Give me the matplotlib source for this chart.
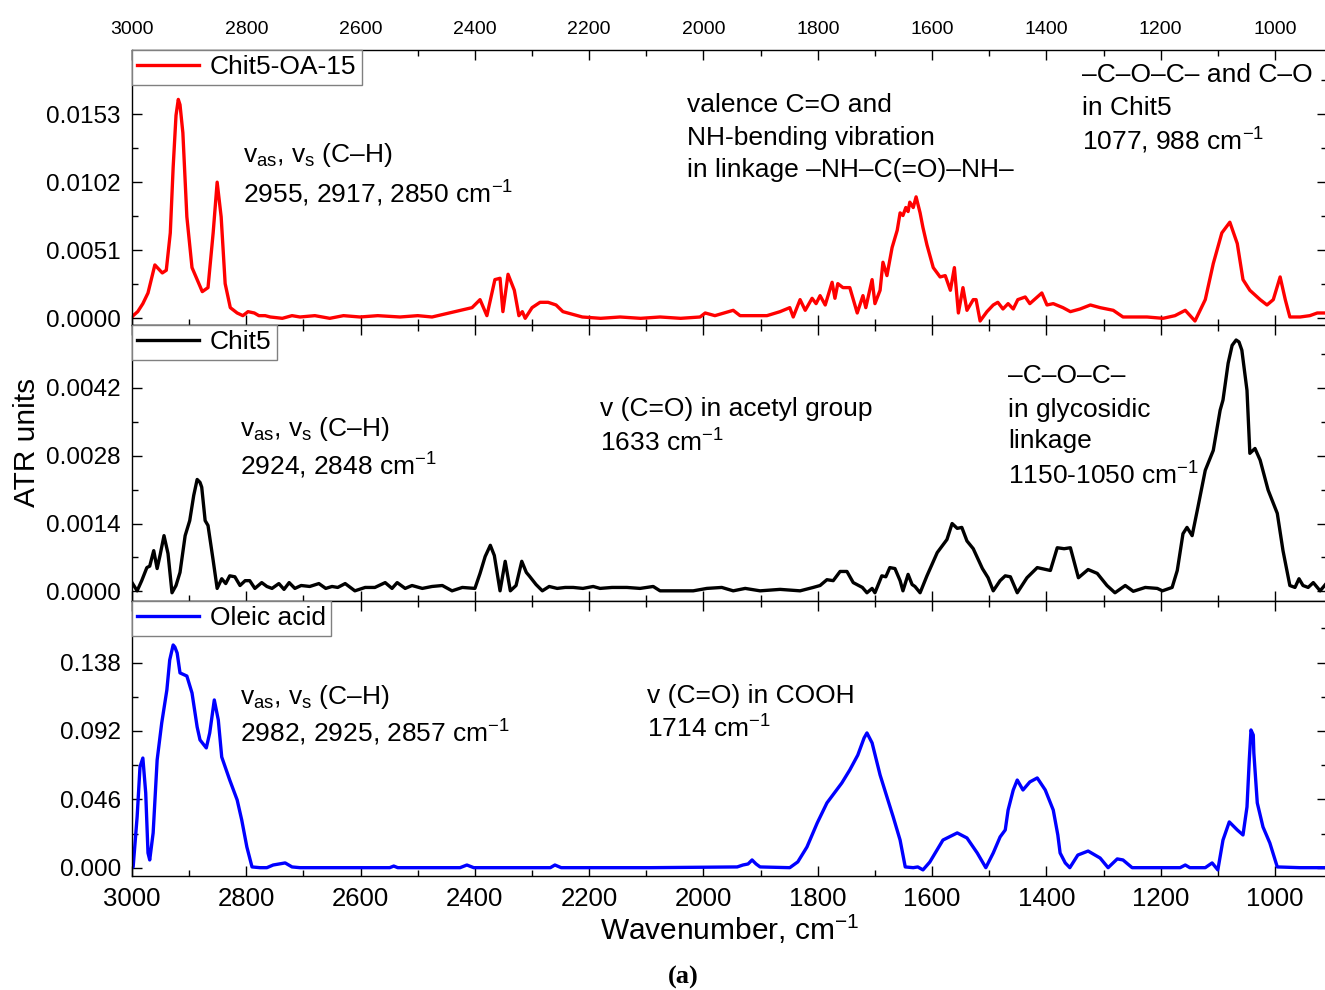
import matplotlib
matplotlib.use("Agg")
import matplotlib.pyplot as plt
from matplotlib.ticker import MultipleLocator, FixedLocator

plt.rcParams['font.family'] = ['Liberation Sans', 'DejaVu Sans']
plt.rcParams['mathtext.fontset'] = 'custom'
plt.rcParams['mathtext.rm'] = 'Liberation Sans'
plt.rcParams['mathtext.it'] = 'Liberation Sans:italic'
plt.rcParams['mathtext.bf'] = 'Liberation Sans:bold'

# (wavenumber cm-1, ATR units)
chit5_oa15 = [
    (3000, 0.0001), (2998, 0.0002), (2990, 0.0005), (2981, 0.0011), (2972, 0.0019),
    (2960, 0.0040), (2947, 0.0034), (2940, 0.0036), (2933, 0.0064), (2928, 0.0113),
    (2923, 0.0152), (2919, 0.0164), (2916, 0.0160), (2911, 0.0139), (2904, 0.0076),
    (2895, 0.0038), (2886, 0.0029), (2877, 0.0020), (2867, 0.0023), (2858, 0.0064),
    (2851, 0.0102), (2844, 0.0076), (2837, 0.0026), (2828, 0.0008), (2816, 0.0004),
    (2806, 0.0002), (2797, 0.0005), (2786, 0.0004), (2778, 0.0002), (2767, 0.0002),
    (2758, 0.0001), (2737, 0.0000), (2720, 0.0002), (2706, 0.0001), (2680, 0.0002),
    (2654, 0.0000), (2630, 0.0002), (2601, 0.0001), (2570, 0.0002), (2531, 0.0001),
    (2500, 0.0002), (2475, 0.0001), (2435, 0.0005), (2405, 0.0008), (2391, 0.0014),
    (2379, 0.0002), (2365, 0.0029), (2356, 0.0030), (2351, 0.0005), (2342, 0.0033),
    (2331, 0.0021), (2323, 0.0002), (2317, 0.0005), (2312, 0.0000), (2300, 0.0008),
    (2286, 0.0012), (2272, 0.0012), (2258, 0.0010), (2246, 0.0005), (2212, 0.0001),
    (2180, 0.0000), (2146, 0.0001), (2110, 0.0000), (2076, 0.0001), (2040, 0.0000),
    (2006, 0.0001), (1997, 0.0004), (1980, 0.0002), (1948, 0.0006), (1936, 0.0002),
    (1918, 0.0002), (1889, 0.0002), (1866, 0.0005), (1849, 0.0008), (1843, 0.0001),
    (1831, 0.0014), (1822, 0.0006), (1810, 0.0015), (1803, 0.0011), (1796, 0.0017),
    (1787, 0.0010), (1775, 0.0027), (1770, 0.0015), (1765, 0.0026), (1756, 0.0023),
    (1744, 0.0023), (1731, 0.0004), (1721, 0.0017), (1716, 0.0008), (1705, 0.0029),
    (1700, 0.0011), (1691, 0.0021), (1686, 0.0042), (1679, 0.0032), (1670, 0.0053),
    (1661, 0.0066), (1656, 0.0079), (1651, 0.0077), (1646, 0.0083), (1642, 0.0080),
    (1639, 0.0087), (1633, 0.0083), (1628, 0.0091), (1621, 0.0079), (1616, 0.0068),
    (1609, 0.0055), (1598, 0.0038), (1586, 0.0031), (1577, 0.0032), (1568, 0.0021),
    (1561, 0.0038), (1554, 0.0004), (1546, 0.0023), (1539, 0.0006), (1528, 0.0014),
    (1523, 0.0014), (1516, -0.0002), (1504, 0.0005), (1493, 0.0010), (1485, 0.0012),
    (1476, 0.0007), (1467, 0.0011), (1458, 0.0007), (1450, 0.0014), (1437, 0.0016),
    (1429, 0.0011), (1416, 0.0016), (1408, 0.0019), (1399, 0.0010), (1388, 0.0011),
    (1371, 0.0008), (1358, 0.0005), (1341, 0.0007), (1323, 0.0010), (1306, 0.0008),
    (1283, 0.0006), (1266, 0.0001), (1224, 0.0001), (1196, 0.0000), (1175, 0.0002),
    (1157, 0.0006), (1140, -0.0002), (1122, 0.0014), (1108, 0.0041), (1093, 0.0064),
    (1079, 0.0072), (1066, 0.0056), (1056, 0.0029), (1044, 0.0021), (1026, 0.0014),
    (1014, 0.0010), (1003, 0.0014), (991, 0.0031), (982, 0.0014), (974, 0.0001),
    (956, 0.0001), (939, 0.0002), (926, 0.0004), (909, 0.0004),
]

chit5 = [
    (3000, 0.00018), (2991, 0.00001), (2983, 0.00022), (2974, 0.00049), (2969, 0.00052),
    (2962, 0.00084), (2956, 0.00047), (2951, 0.00074), (2944, 0.00115), (2937, 0.00078),
    (2930, -0.00003), (2923, 0.00012), (2916, 0.00039), (2907, 0.00115), (2899, 0.00146),
    (2892, 0.00198), (2886, 0.00231), (2881, 0.00225), (2878, 0.00215), (2872, 0.00146),
    (2867, 0.00136), (2858, 0.00064), (2851, 0.00006), (2843, 0.00026), (2836, 0.00016),
    (2829, 0.00032), (2820, 0.00030), (2811, 0.00012), (2802, 0.00022), (2794, 0.00022),
    (2785, 0.00006), (2773, 0.00018), (2764, 0.00010), (2755, 0.00006), (2743, 0.00016),
    (2734, 0.00004), (2725, 0.00018), (2715, 0.00006), (2704, 0.00012), (2689, 0.00010),
    (2673, 0.00016), (2661, 0.00006), (2650, 0.00010), (2640, 0.00008), (2627, 0.00016),
    (2610, 0.00001), (2592, 0.00008), (2575, 0.00008), (2557, 0.00018), (2545, 0.00006),
    (2536, 0.00018), (2522, 0.00006), (2510, 0.00012), (2492, 0.00006), (2475, 0.00010),
    (2457, 0.00012), (2440, 0.00001), (2422, 0.00008), (2400, 0.00006), (2391, 0.00037),
    (2382, 0.00072), (2373, 0.00095), (2366, 0.00074), (2356, 0.00001), (2347, 0.00062),
    (2338, 0.00001), (2328, 0.00012), (2318, 0.00062), (2310, 0.00039), (2305, 0.00032),
    (2293, 0.00014), (2282, 0.00001), (2270, 0.00010), (2256, 0.00006), (2242, 0.00008),
    (2228, 0.00008), (2211, 0.00006), (2193, 0.00010), (2181, 0.00006), (2160, 0.00008),
    (2134, 0.00008), (2111, 0.00006), (2088, 0.00010), (2076, 0.00001), (2050, 0.00001),
    (2018, 0.00001), (1994, 0.00006), (1968, 0.00008), (1948, 0.00001), (1927, 0.00006),
    (1901, 0.00001), (1866, 0.00004), (1831, 0.00001), (1808, 0.00008), (1796, 0.00012),
    (1784, 0.00024), (1773, 0.00022), (1761, 0.00041), (1749, 0.00041), (1738, 0.00018),
    (1722, 0.00008), (1714, -0.00003), (1705, 0.00006), (1700, -0.00003), (1688, 0.00032),
    (1681, 0.00030), (1674, 0.00049), (1665, 0.00047), (1656, 0.00022), (1651, 0.00001),
    (1642, 0.00035), (1635, 0.00014), (1630, 0.00010), (1621, -0.00003), (1609, 0.00032),
    (1591, 0.00080), (1574, 0.00107), (1565, 0.00140), (1556, 0.00130), (1548, 0.00132),
    (1539, 0.00104), (1528, 0.00088), (1512, 0.00047), (1502, 0.00028), (1493, 0.00001),
    (1481, 0.00022), (1472, 0.00032), (1463, 0.00030), (1451, -0.00003), (1434, 0.00028),
    (1416, 0.00049), (1393, 0.00043), (1381, 0.00090), (1369, 0.00088), (1358, 0.00090),
    (1344, 0.00028), (1327, 0.00045), (1311, 0.00037), (1294, 0.00012), (1280, -0.00003),
    (1262, 0.00012), (1248, 0.00000), (1227, 0.00008), (1206, 0.00006), (1197, 0.00001),
    (1180, 0.00008), (1171, 0.00043), (1161, 0.00119), (1154, 0.00132), (1145, 0.00115),
    (1135, 0.00173), (1122, 0.00250), (1108, 0.00291), (1096, 0.00374), (1091, 0.00395),
    (1082, 0.00471), (1075, 0.00508), (1068, 0.00519), (1063, 0.00515), (1058, 0.00498),
    (1049, 0.00415), (1044, 0.00285), (1035, 0.00295), (1026, 0.00271), (1012, 0.00209),
    (996, 0.00161), (986, 0.00084), (974, 0.00012), (965, 0.00008), (958, 0.00026),
    (951, 0.00012), (942, 0.00008), (933, 0.00018), (921, 0.00001), (909, 0.00018),
]

oleic_acid = [
    (3000, 0.0000), (2998, 0.0005), (2991, 0.0343), (2986, 0.0679), (2981, 0.0738),
    (2976, 0.0503), (2972, 0.0099), (2969, 0.0052), (2963, 0.0234), (2956, 0.0725),
    (2948, 0.0974), (2939, 0.1196), (2934, 0.1398), (2928, 0.1499), (2925, 0.1485),
    (2921, 0.1445), (2916, 0.1311), (2904, 0.1290), (2895, 0.1176), (2886, 0.0947),
    (2881, 0.0860), (2870, 0.0806), (2864, 0.0907), (2856, 0.1129), (2849, 0.0994),
    (2843, 0.0745), (2829, 0.0590), (2816, 0.0456), (2808, 0.0321), (2799, 0.0139),
    (2790, 0.0005), (2776, 0.0000), (2764, 0.0000), (2753, 0.0018), (2732, 0.0032),
    (2720, 0.0005), (2706, 0.0000), (2619, 0.0000), (2549, 0.0000), (2542, 0.0011),
    (2535, 0.0000), (2426, 0.0000), (2414, 0.0018), (2402, 0.0000), (2268, 0.0000),
    (2260, 0.0018), (2249, 0.0000), (2094, 0.0000), (1941, 0.0005), (1931, 0.0018),
    (1922, 0.0025), (1915, 0.0052), (1908, 0.0025), (1901, 0.0005), (1849, 0.0000),
    (1835, 0.0039), (1819, 0.0139), (1801, 0.0301), (1784, 0.0436), (1758, 0.0570),
    (1744, 0.0658), (1730, 0.0758), (1719, 0.0873), (1714, 0.0907), (1705, 0.0840),
    (1691, 0.0624), (1679, 0.0476), (1668, 0.0341), (1656, 0.0186), (1647, 0.0005),
    (1633, 0.0000), (1625, 0.0005), (1616, -0.0015), (1604, 0.0038), (1581, 0.0186),
    (1556, 0.0234), (1539, 0.0200), (1521, 0.0099), (1506, 0.0000), (1493, 0.0099),
    (1481, 0.0207), (1472, 0.0254), (1467, 0.0388), (1458, 0.0523), (1451, 0.0590),
    (1441, 0.0523), (1429, 0.0577), (1416, 0.0604), (1402, 0.0523), (1388, 0.0388),
    (1380, 0.0220), (1376, 0.0099), (1367, 0.0032), (1359, 0.0000), (1345, 0.0085),
    (1327, 0.0112), (1306, 0.0065), (1292, 0.0000), (1276, 0.0059), (1266, 0.0052),
    (1250, 0.0000), (1166, 0.0000), (1157, 0.0018), (1149, 0.0000), (1122, 0.0000),
    (1110, 0.0032), (1100, -0.0015), (1091, 0.0186), (1080, 0.0308), (1066, 0.0254),
    (1056, 0.0220), (1049, 0.0409), (1045, 0.0725), (1042, 0.0927), (1038, 0.0893),
    (1037, 0.0772), (1031, 0.0436), (1021, 0.0274), (1009, 0.0166), (996, 0.0005),
    (956, 0.0000), (909, 0.0000),
]

labels = ['Chit5-OA-15', 'Chit5', 'Oleic acid']
colors = ['#ff0000', '#000000', '#0000ff']
series = [chit5_oa15, chit5, oleic_acid]
y_limits = [(-0.0005, 0.0201), (-0.0002, 0.0055), (-0.0056, 0.1795)]
y_ticks = [[0.0, 0.0051, 0.0102, 0.0153], [0.0, 0.0014, 0.0028, 0.0042], [0.0, 0.046, 0.092, 0.138]]
y_ticklabels = [['0.0000', '0.0051', '0.0102', '0.0153'],
                ['0.0000', '0.0014', '0.0028', '0.0042'],
                ['0.000', '0.046', '0.092', '0.138']]

W, H = 1325, 990
fig = plt.figure(figsize=(W / 100, H / 100), dpi=100)

# panel edges in pixels (top, bottom)
rows = [(50, 325), (325, 601), (601, 876)]
left_px, right_px = 132, 1327

axes = []
for i, (top, bot) in enumerate(rows):
    ax = fig.add_axes([left_px / W, 1 - bot / H, (right_px - left_px) / W, (bot - top) / H])
    wn = [p[0] for p in series[i]]
    ab = [p[1] for p in series[i]]
    ax.plot(wn, ab, color=colors[i], lw=2.4, label=labels[i])
    ax.set_xlim(3000, 909)
    ax.set_ylim(*y_limits[i])
    ax.xaxis.set_major_locator(MultipleLocator(200))
    ax.xaxis.set_minor_locator(MultipleLocator(100))
    ax.yaxis.set_major_locator(FixedLocator(y_ticks[i]))
    ax.set_yticklabels(y_ticklabels[i])
    step = y_ticks[i][1]
    ax.yaxis.set_minor_locator(FixedLocator([step * (k + 0.5) for k in range(4)]))
    ax.tick_params(which='both', direction='in', top=True, right=True, width=1.0)
    ax.tick_params(which='major', length=7)
    ax.tick_params(which='minor', length=4)
    ax.tick_params(axis='y', labelsize=17.5, pad=8)
    ax.tick_params(axis='x', labelbottom=(i == 2), labeltop=(i == 0))
    if i == 0:
        ax.tick_params(axis='x', labelsize=14, pad=9)
    else:
        ax.tick_params(axis='x', labelsize=18.5, pad=8)
    for s in ax.spines.values():
        s.set_linewidth(1.0)
    leg = ax.legend(loc='upper left', bbox_to_anchor=(0, 1), borderaxespad=0,
                    fancybox=False, edgecolor='#808080', framealpha=1, fontsize=19,
                    handlelength=2.35, handletextpad=0.4, borderpad=0.2)
    leg.get_frame().set_linewidth(1.0)
    axes.append(ax)


def note(x, y, s):
    fig.text(x / W, 1 - y / H, s, ha='left', va='baseline', fontsize=19)


vas = r'v$_{\mathregular{as}}$, v$_{\mathregular{s}}$ (C–H)'
cm = r'cm$^{-1}$'

note(243, 162, vas)
note(243, 203, '2955, 2917, 2850 ' + cm)
note(687, 112, 'valence C=O and')
note(687, 145, 'NH-bending vibration')
note(687, 177, 'in linkage –NH–C(=O)–NH–')
note(1082, 82, '–C–O–C– and C–O')
note(1082, 115, 'in Chit5')
note(1082, 150, '1077, 988 ' + cm)

note(240, 436, vas)
note(240, 475, '2924, 2848 ' + cm)
note(600, 416, 'v (C=O) in acetyl group')
note(600, 452, '1633 ' + cm)
note(1008, 383, '–C–O–C–')
note(1008, 417, 'in glycosidic')
note(1008, 448, 'linkage')
note(1008, 485, '1150-1050 ' + cm)

note(240, 704, vas)
note(240, 742, '2982, 2925, 2857 ' + cm)
note(647, 703, 'v (C=O) in COOH')
note(647, 738, '1714 ' + cm)

fig.text(27 / W, 1 - 442 / H, 'ATR units', rotation=90, ha='center', va='center', fontsize=21.5)
fig.text(730 / W, 1 - 940 / H, 'Wavenumber, ' + cm, ha='center', va='baseline', fontsize=21.5)
fig.text(683 / W, 1 - 984 / H, '(a)', ha='center', va='baseline', family='Liberation Serif',
         weight='bold', fontsize=19)

fig.savefig('out.png', dpi=100)
